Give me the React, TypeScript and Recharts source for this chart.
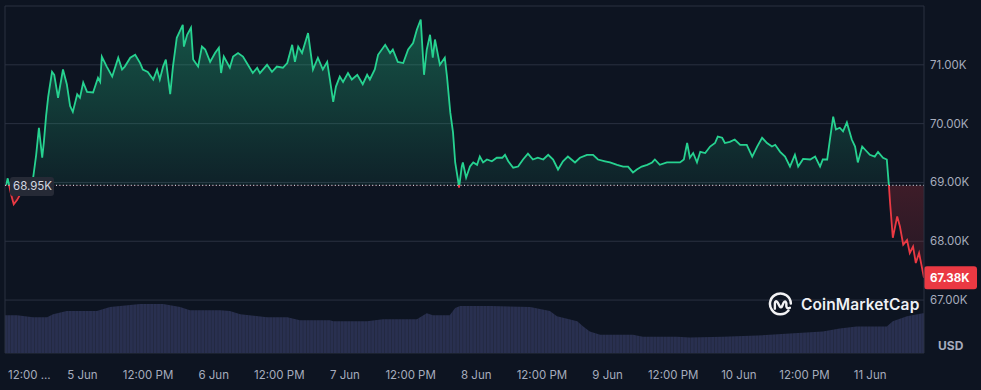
import React from "react"
import { ComposedChart, Area, XAxis, YAxis, CartesianGrid, ReferenceLine } from "recharts"

// hours since the start of the 7-day window (4 Jun, ~10:00)
const priceHours = [
  0.2, 0.5, 1.1, 1.6, 2.2, 3.1, 4.2, 5.1, 5.7, 6.2, 6.8, 7.1, 7.5, 7.9, 8.6, 9.0, 9.7, 10.6, 11.3, 11.9,
  12.4, 13.2, 13.7, 14.3, 15.0, 16.1, 17.0, 17.4, 17.7, 18.6, 19.6, 20.7, 21.4, 21.9, 22.9, 23.8, 24.7, 25.2, 26.1, 27.1,
  27.8, 28.3, 28.9, 29.4, 30.2, 30.7, 31.4, 32.5, 32.7, 33.3, 34.0, 34.4, 35.3, 36.0, 36.6, 37.5, 38.4, 39.1, 39.5, 40.0,
  41.1, 41.7, 42.6, 43.5, 44.4, 45.3, 46.1, 46.6, 47.9, 48.8, 49.7, 50.8, 51.6, 52.5, 53.0, 53.6, 54.3, 55.4, 56.3, 57.2,
  58.1, 58.9, 59.4, 60.0, 60.5, 61.2, 61.8, 62.7, 63.4, 64.4, 64.9, 65.4, 66.2, 66.7, 67.6, 68.2, 69.5, 70.4, 70.9, 71.8,
  72.8, 73.7, 74.6, 75.3, 76.0, 76.6, 77.1, 77.7, 78.2, 78.6, 79.5, 80.4, 80.8, 81.4, 81.9, 82.3, 82.8, 83.0, 83.5, 83.7,
  84.3, 85.0, 85.6, 86.3, 86.8, 87.4, 88.1, 89.0, 89.9, 90.9, 91.4, 92.0, 92.9, 93.8, 94.7, 95.6, 96.5, 97.4, 98.4, 99.3,
  100.2, 101.1, 102.0, 102.9, 104.2, 105.1, 106.4, 107.5, 108.4, 109.7, 110.6, 111.9, 113.0, 113.9, 114.8, 115.5, 116.4, 117.4, 118.3, 118.8,
  119.7, 121.0, 122.1, 123.4, 124.1, 124.7, 125.2, 125.8, 126.5, 127.1, 128.0, 128.9, 129.8, 130.3, 131.1, 131.6, 132.5, 133.4, 134.4, 135.6,
  136.6, 137.5, 138.4, 139.3, 140.2, 140.8, 141.7, 142.6, 143.5, 144.4, 145.0, 145.9, 147.2, 148.1, 149.0, 149.5, 150.3, 150.8, 151.4, 151.9,
  152.6, 153.2, 153.9, 154.8, 155.4, 155.9, 156.7, 157.2, 158.1, 159.0, 159.6, 160.5, 161.2, 161.6, 161.8, 162.3, 163.1, 163.6, 164.2, 164.9,
  165.4, 166.0, 166.5, 167.1, 167.8, 168.0,
]

// BTC price, thousands of USD
const priceValues = [
  68.95, 69.07, 68.8, 68.63, 68.7, 68.85, 68.95, 69.05, 69.47, 69.93, 69.42, 69.68, 70.12, 70.46, 70.88, 70.83, 70.44, 70.92, 70.67, 70.3,
  70.2, 70.5, 70.44, 70.7, 70.54, 70.53, 70.78, 70.71, 71.14, 70.97, 70.8, 71.12, 70.92, 70.97, 71.12, 71.17, 71.03, 70.92, 70.88, 70.75,
  70.92, 70.75, 70.97, 71.09, 70.5, 70.97, 71.46, 71.68, 71.31, 71.51, 71.63, 71.09, 70.97, 71.31, 71.26, 71.05, 71.2, 71.29, 70.86, 71.14,
  70.95, 71.14, 71.2, 71.14, 71.0, 70.86, 70.95, 70.86, 71.0, 70.88, 70.97, 70.95, 71.03, 71.34, 71.05, 71.31, 71.2, 71.54, 70.92, 71.12,
  70.92, 71.05, 70.75, 70.37, 70.63, 70.8, 70.71, 70.86, 70.75, 70.83, 70.75, 70.67, 70.83, 70.75, 70.92, 71.17, 71.34, 71.2, 71.26, 71.05,
  71.03, 71.26, 71.37, 71.6, 71.77, 70.83, 71.26, 71.51, 71.12, 71.43, 71.0, 71.12, 70.8, 70.19, 69.85, 69.34, 69.05, 68.91, 69.27, 69.34,
  69.08, 69.27, 69.34, 69.3, 69.44, 69.34, 69.39, 69.36, 69.42, 69.42, 69.47, 69.36, 69.25, 69.27, 69.39, 69.49, 69.39, 69.42, 69.39, 69.47,
  69.39, 69.22, 69.36, 69.44, 69.34, 69.42, 69.47, 69.47, 69.39, 69.36, 69.34, 69.3, 69.27, 69.27, 69.17, 69.22, 69.27, 69.3, 69.34, 69.39,
  69.3, 69.34, 69.34, 69.34, 69.39, 69.67, 69.42, 69.5, 69.34, 69.52, 69.5, 69.61, 69.67, 69.78, 69.76, 69.67, 69.69, 69.73, 69.64, 69.64,
  69.44, 69.61, 69.76, 69.67, 69.61, 69.64, 69.52, 69.44, 69.27, 69.47, 69.27, 69.4, 69.39, 69.44, 69.27, 69.39, 69.39, 69.73, 70.12, 69.9,
  69.93, 69.87, 70.02, 69.73, 69.61, 69.34, 69.61, 69.56, 69.47, 69.44, 69.52, 69.42, 69.39, 68.93, 68.65, 68.06, 68.42, 68.25, 67.94, 68.02,
  67.8, 67.91, 67.63, 67.8, 67.47, 67.38,
]

const volumeHours = [
  0, 2.2, 5.1, 7.7, 8.8, 11.3, 16.8, 19.2, 22.9, 24.7, 28.9, 32.0, 33.8, 39.3, 41.1, 43.0, 47.9, 51.6, 53.9, 59.4,
  60.0, 66.2, 69.1, 75.3, 77.1, 78.2, 81.3, 82.3, 83.2, 88.7, 96.0, 99.6, 100.9, 104.6, 105.7, 106.9, 108.8, 114.8, 116.6, 122.8,
  125.2, 131.3, 137.5, 143.5, 149.5, 152.6, 155.7, 161.2, 162.3, 164.9, 167.8, 168.0,
]

// 24h volume, billions of USD
const volumeValues = [
  27.8, 27.8, 26.3, 26.3, 28.5, 30.8, 30.8, 33.8, 35.3, 36.0, 36.0, 33.8, 31.5, 31.5, 30.8, 28.5, 26.3, 26.3, 24.0, 24.0,
  23.3, 23.3, 24.8, 24.8, 29.3, 27.8, 27.8, 33.0, 34.5, 34.5, 33.8, 30.8, 27.0, 23.3, 19.5, 15.8, 13.5, 13.5, 12.0, 12.0,
  11.3, 12.0, 12.8, 14.3, 15.8, 18.0, 19.5, 19.5, 23.3, 27.0, 29.3, 29.3,
]

const xTicks = [2.15, 14.15, 26.15, 38.15, 50.15, 62.15, 74.15, 86.15, 98.15, 110.15, 122.15, 134.15, 146.15, 158.15]
const xTickLabels = [
  "12:00 ...", "5 Jun", "12:00 PM", "6 Jun", "12:00 PM", "7 Jun", "12:00 PM",
  "8 Jun", "12:00 PM", "9 Jun", "12:00 PM", "10 Jun", "12:00 PM", "11 Jun",
]
const yTicks = [67, 68, 69, 70, 71, 72]

const openPrice = 68.95
const lastPrice = priceValues[priceValues.length - 1]

const Y_MIN = 66.1
const Y_MAX = 72
const W = 981
const H = 390
const TOP = 6
const LEFT = 5
const Y_AXIS_W = 57
const X_AXIS_H = 37
const plotBottom = H - X_AXIS_H
const baseOffset = (Y_MAX - openPrice) / (Y_MAX - Y_MIN)

const BG = "#0d1421"
const GRID = "#2a3040"
const GREEN = "#26d290"
const RED = "#ea3943"
const MUTED = "#a6acbd"

type Row = { t: number; price?: number; vol?: number }
const rows: Row[] = []
priceHours.forEach((t, i) => rows.push({ t, price: priceValues[i] }))
volumeHours.forEach((t, i) => rows.push({ t, vol: volumeValues[i] }))
rows.sort((a, b) => a.t - b.t)

const XTick = (props: any) => {
  const { x, y, payload, index } = props
  const label = xTickLabels[xTicks.indexOf(payload.value)]
  const first = index === 0
  return (
    <text x={first ? 8 : x} y={y + 22} textAnchor={first ? "start" : "middle"} dominantBaseline="central" fill={MUTED} fontSize={11.5}>
      {label}
    </text>
  )
}

const YTick = (props: any) => {
  const { x, y, payload } = props
  if (payload.value === Y_MAX) return <g />
  return (
    <text x={x + 6} y={y} dominantBaseline="central" fill={MUTED} fontSize={11.5}>
      {payload.value.toFixed(2) + "K"}
    </text>
  )
}

const OpenLabel = (props: any) => {
  const { viewBox } = props
  const y = viewBox.y
  return (
    <g>
      <rect x={viewBox.x + 5} y={y - 8.5} width={44} height={19} rx={3} fill="#262a36" />
      <text x={viewBox.x + 8} y={y + 1} dominantBaseline="central" fill="#d3d7e0" fontSize={11.5}>
        {openPrice.toFixed(2) + "K"}
      </text>
    </g>
  )
}

const LastLabel = (props: any) => {
  const { viewBox } = props
  const x = viewBox.x + viewBox.width
  const y = viewBox.y
  return (
    <g>
      <rect x={x} y={y - 11.5} width={53} height={23} rx={3} fill={RED} />
      <text x={x + 6} y={y} dominantBaseline="central" fill="#ffffff" fontSize={11.5} fontWeight={700}>
        {lastPrice.toFixed(2) + "K"}
      </text>
    </g>
  )
}

export default function App() {
  return (
    <div
      style={{
        position: "absolute",
        left: 0,
        top: 0,
        width: W,
        height: H,
        background: BG,
        fontFamily: "Inter, 'Noto Sans', sans-serif",
        overflow: "hidden",
      }}
    >
      <ComposedChart width={W} height={H} data={rows} margin={{ top: TOP, right: 0, bottom: 0, left: LEFT }}>
        <defs>
          <linearGradient id="priceStroke" gradientUnits="userSpaceOnUse" x1="0" y1={TOP} x2="0" y2={plotBottom}>
            <stop offset={baseOffset} stopColor={GREEN} />
            <stop offset={baseOffset} stopColor={RED} />
          </linearGradient>
          <linearGradient id="priceFill" gradientUnits="userSpaceOnUse" x1="0" y1={TOP} x2="0" y2={plotBottom}>
            <stop offset={0} stopColor={GREEN} stopOpacity={0.36} />
            <stop offset={baseOffset} stopColor={GREEN} stopOpacity={0.07} />
            <stop offset={baseOffset} stopColor={RED} stopOpacity={0.22} />
            <stop offset={1} stopColor={RED} stopOpacity={0} />
          </linearGradient>
          <pattern id="volFill" width="3.4" height="10" patternUnits="userSpaceOnUse">
            <rect width="3.4" height="10" fill="#293050" />
            <rect width="0.8" height="10" fill="#21273f" />
          </pattern>
        </defs>
        <CartesianGrid vertical={false} stroke={GRID} />
        <XAxis
          dataKey="t"
          type="number"
          domain={[0, 168]}
          ticks={xTicks}
          interval={0}
          allowDataOverflow
          height={X_AXIS_H}
          tickSize={0}
          tickMargin={0}
          tickLine={false}
          axisLine={false}
          tick={<XTick />}
        />
        <YAxis
          orientation="right"
          domain={[Y_MIN, Y_MAX]}
          ticks={yTicks}
          allowDataOverflow
          width={Y_AXIS_W}
          tickSize={0}
          tickMargin={0}
          tickLine={false}
          axisLine={{ stroke: GRID }}
          tick={<YTick />}
        />
        <YAxis yAxisId="vol" domain={[0, 255]} hide />
        <Area
          yAxisId="vol"
          type="linear"
          dataKey="vol"
          stroke="none"
          fill="url(#volFill)"
          fillOpacity={1}
          connectNulls
          dot={false}
          activeDot={false}
          isAnimationActive={false}
        />
        <Area
          type="linear"
          dataKey="price"
          baseValue={openPrice}
          stroke="url(#priceStroke)"
          strokeWidth={1.8}
          fill="url(#priceFill)"
          fillOpacity={1}
          connectNulls
          dot={false}
          activeDot={false}
          isAnimationActive={false}
        />
        <ReferenceLine x={0} stroke={GRID} />
        <ReferenceLine y={openPrice} stroke="#c5c9d3" strokeWidth={1.2} strokeDasharray="1 2.4" label={<OpenLabel />} />
        <ReferenceLine y={lastPrice} stroke="none" label={<LastLabel />} />
      </ComposedChart>

      <div style={{ position: "absolute", left: 768, top: 292, display: "flex", alignItems: "center" }}>
        <svg width="25" height="25" viewBox="0 0 24 24">
          <path d="M19.6 17.8 A10 10 0 1 1 21.9 11" fill="none" stroke="#f2f2f4" strokeWidth="2.4" strokeLinecap="round" />
          <path
            d="M6.6 16 V10.6 Q6.8 7.6 9.2 10 L11.4 14 Q12.4 15.6 13.4 14 L15 10.2 Q16.6 7.6 17.6 10.6 V13.6 Q18.2 16.4 21 15.2"
            fill="none"
            stroke="#f2f2f4"
            strokeWidth="2.3"
            strokeLinecap="round"
            strokeLinejoin="round"
          />
        </svg>
        <span style={{ marginLeft: 8, color: "#eef0f4", fontSize: 15.5, fontWeight: 600, letterSpacing: 0.1 }}>CoinMarketCap</span>
      </div>
      <div style={{ position: "absolute", left: 938, top: 338, color: MUTED, fontSize: 12, fontWeight: 700 }}>USD</div>
    </div>
  )
}
